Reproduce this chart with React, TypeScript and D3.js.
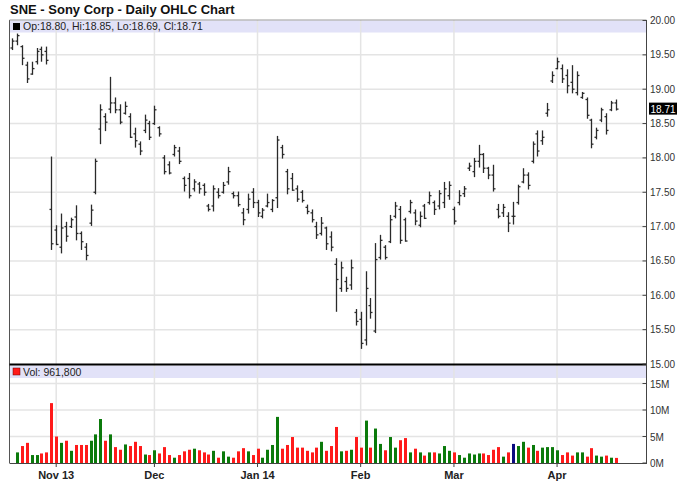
import * as d3 from "d3"

// Sony Corp (SNE) daily bars, Oct 21 2013 - Apr 17 2014
const opens = [
  19.6, 19.7, 19.62, 19.35, 19.22, 19.4, 19.58, 19.55, 17.25, 16.95,
  16.7, 17.0, 17.0, 17.14, 16.9, 16.7, 17.05, 17.5, 18.42, 18.6,
  18.71, 18.8, 18.7, 18.65, 18.6, 18.35, 18.2, 18.4, 18.5, 18.5,
  18.44, 18.0, 17.9, 18.05, 18.1, 17.7, 17.7, 17.55, 17.62, 17.6,
  17.3, 17.3, 17.5, 17.5, 17.65, 17.48, 17.45, 17.2, 17.25, 17.5,
  17.35, 17.15, 17.3, 17.25, 17.42, 18.15, 17.8, 17.7, 17.55, 17.5,
  17.28, 17.2, 17.0, 16.9, 16.98, 16.85, 16.45, 16.1, 16.2, 16.15,
  15.75, 15.65, 15.35, 15.85, 15.48, 16.55, 16.7, 16.78, 17.15, 17.25,
  17.1, 17.22, 17.2, 17.02, 17.3, 17.35, 17.35, 17.3, 17.35, 17.45,
  17.25, 17.35, 17.48, 17.85, 17.8, 17.95, 18.05, 17.85, 17.75, 17.25,
  17.2, 17.15, 17.15, 17.35, 17.65, 17.75, 17.95, 18.35, 18.25, 18.65,
  19.12, 19.3, 19.3, 19.2, 19.1, 18.95, 18.88, 18.85, 18.55, 18.3,
  18.55, 18.6, 18.7, 18.8,
]
const highs = [
  19.74, 19.81, 19.64, 19.4, 19.4, 19.6, 19.62, 19.62, 18.02, 17.02,
  17.19, 17.07, 17.13, 17.31, 16.93, 16.76, 17.32, 17.99, 18.78, 18.65,
  19.18, 18.88, 18.78, 18.82, 18.65, 18.44, 18.24, 18.63, 18.54, 18.76,
  18.46, 18.04, 17.95, 18.19, 18.16, 17.73, 17.78, 17.69, 17.65, 17.63,
  17.33, 17.6, 17.56, 17.65, 17.87, 17.51, 17.51, 17.27, 17.48, 17.56,
  17.39, 17.27, 17.48, 17.4, 18.32, 18.19, 17.84, 17.78, 17.6, 17.53,
  17.32, 17.25, 17.07, 17.14, 17.0, 16.93, 16.54, 16.49, 16.27, 16.52,
  15.8, 15.76, 16.35, 15.96, 16.76, 16.88, 16.73, 17.17, 17.36, 17.3,
  17.13, 17.39, 17.25, 17.22, 17.33, 17.51, 17.38, 17.53, 17.65, 17.66,
  17.29, 17.53, 17.59, 17.93, 18.0, 18.19, 18.07, 17.87, 17.9, 17.33,
  17.33, 17.21, 17.36, 17.61, 17.85, 17.79, 18.24, 18.4, 18.4, 18.8,
  19.26, 19.46, 19.36, 19.29, 19.35, 19.26, 18.96, 18.88, 18.57, 18.44,
  18.73, 18.65, 18.83, 18.85,
]
const lows = [
  19.57, 19.64, 19.35, 19.09, 19.21, 19.36, 19.4, 19.36, 16.66, 16.73,
  16.61, 16.78, 16.98, 16.8, 16.66, 16.51, 17.01, 17.47, 18.2, 18.39,
  18.65, 18.65, 18.49, 18.63, 18.29, 18.15, 18.04, 18.36, 18.26, 18.48,
  18.31, 17.76, 17.76, 18.02, 17.91, 17.51, 17.41, 17.51, 17.48, 17.45,
  17.22, 17.22, 17.41, 17.48, 17.61, 17.41, 17.29, 17.02, 17.19, 17.27,
  17.14, 17.12, 17.28, 17.21, 17.27, 17.99, 17.47, 17.52, 17.36, 17.35,
  17.18, 17.06, 16.82, 16.87, 16.66, 16.64, 15.76, 16.05, 16.05, 16.08,
  15.56, 15.22, 15.27, 15.66, 15.45, 16.52, 16.52, 16.76, 17.12, 16.75,
  16.78, 17.19, 17.02, 16.99, 17.11, 17.32, 17.17, 17.25, 17.27, 17.39,
  17.03, 17.31, 17.43, 17.81, 17.72, 17.86, 17.78, 17.69, 17.51, 17.12,
  17.14, 16.92, 17.03, 17.32, 17.63, 17.54, 17.92, 18.02, 18.19, 18.6,
  19.09, 19.29, 19.09, 18.94, 18.94, 18.91, 18.86, 18.57, 18.14, 18.27,
  18.52, 18.34, 18.68, 18.69,
]
const closes = [
  19.7, 19.78, 19.45, 19.15, 19.3, 19.55, 19.5, 19.42, 16.75, 16.74,
  16.98, 16.86, 17.1, 16.9, 16.78, 16.58, 17.24, 17.95, 18.7, 18.52,
  18.8, 18.7, 18.52, 18.75, 18.3, 18.25, 18.1, 18.55, 18.3, 18.7,
  18.35, 17.8, 17.78, 18.15, 17.95, 17.6, 17.45, 17.65, 17.55, 17.5,
  17.25, 17.55, 17.45, 17.6, 17.8, 17.45, 17.32, 17.1, 17.4, 17.35,
  17.2, 17.24, 17.35, 17.38, 18.26, 18.05, 17.55, 17.53, 17.4, 17.38,
  17.22, 17.1, 16.88, 17.05, 16.75, 16.7, 16.23, 16.4, 16.1, 16.4,
  15.62, 15.3, 16.1, 15.75, 16.52, 16.8, 16.55, 17.1, 17.3, 16.8,
  16.79, 17.35, 17.08, 17.15, 17.12, 17.45, 17.25, 17.48, 17.55, 17.6,
  17.08, 17.45, 17.55, 17.88, 17.95, 18.05, 17.85, 17.75, 17.55, 17.15,
  17.28, 17.05, 17.15, 17.58, 17.75, 17.6, 18.2, 18.1, 18.3, 18.7,
  19.2, 19.4, 19.15, 19.05, 19.0, 19.2, 18.94, 18.62, 18.2, 18.4,
  18.7, 18.4, 18.8, 18.71,
]
// volume in millions of shares
const volumes = [
  0, 2.0, 3.2, 3.8, 1.5, 1.5, 1.8, 2.0, 11.3, 5.0,
  3.8, 4.2, 2.3, 3.4, 3.4, 3.4, 4.2, 5.4, 8.3, 4.2,
  5.4, 3.0, 2.5, 3.5, 3.2, 4.0, 3.2, 1.6, 1.5, 2.4,
  1.8, 3.0, 1.5, 1.0, 1.5, 2.2, 2.5, 2.7, 2.4, 2.0,
  1.6, 2.3, 1.0, 2.2, 1.2, 1.0, 2.2, 2.8, 2.2, 1.5,
  2.7, 1.0, 2.5, 3.4, 8.7, 2.7, 3.4, 4.9, 2.9, 2.9,
  2.3, 2.0, 2.9, 4.0, 2.3, 3.2, 6.8, 2.2, 2.3, 2.5,
  4.9, 2.9, 8.0, 2.9, 6.5, 3.6, 2.4, 4.9, 2.9, 4.3,
  4.7, 2.0, 2.7, 2.0, 1.4, 2.0, 2.0, 1.8, 3.2, 2.3,
  2.0, 1.5, 1.0, 1.8, 1.6, 1.8, 1.8, 1.5, 2.5, 3.0,
  1.2, 2.0, 3.6, 3.2, 4.0, 2.9, 3.4, 2.3, 2.9, 3.0,
  3.0, 2.4, 1.5, 2.0, 1.4, 2.0, 2.0, 1.2, 2.8, 1.4,
  1.2, 1.4, 1.0, 0.9618,
]

const holidays = ["2013-11-28", "2013-12-25", "2014-01-01", "2014-01-20", "2014-02-17"]
const monthStarts = ["2013-11-01", "2013-12-02", "2014-01-02", "2014-02-03", "2014-03-03", "2014-04-01"]
const monthLabels = ["Nov 13", "Dec", "Jan 14", "Feb", "Mar", "Apr"]
const priceTicks = [15, 15.5, 16, 16.5, 17, 17.5, 18, 18.5, 19, 19.5, 20]
const volumeTicks = [0, 5, 10, 15]

const fmtDay = d3.timeFormat("%Y-%m-%d")
const dates = d3.timeDay
  .range(new Date(2013, 9, 21), new Date(2014, 3, 18))
  .filter((d) => d.getDay() !== 0 && d.getDay() !== 6)
  .map(fmtDay)
  .filter((s) => !holidays.includes(s))

const FONT = "Arial, 'Liberation Sans', sans-serif"

export default function App() {
  const width = 688
  const height = 503
  const left = 9.5
  const right = 646.5
  const priceTop = 20
  const priceBottom = 364
  const volBottom = 463

  const x = d3.scalePoint<string>().domain(dates).range([12, 616])
  const y = d3.scaleLinear().domain([15, 20]).range([priceBottom, 20.5])
  const yv = d3.scaleLinear().domain([0, 15]).range([volBottom, 383.5])

  const last = closes.length - 1
  const lastVol = d3.format(",")(Math.round(volumes[last] * 1e6))

  const volColor = (i: number) =>
    closes[i] > opens[i] ? "#0b7a0b" : closes[i] < opens[i] ? "#ff1a1a" : "#0a0a80"

  return (
    <svg width={width} height={height} style={{ position: "absolute", left: 0, top: 0, background: "#fff" }}>
      <style>{`body{margin:0}`}</style>
      <text x={10} y={13.5} fontFamily={FONT} fontWeight="bold" fontSize={13} fill="#111">
        SNE - Sony Corp - Daily OHLC Chart
      </text>

      {/* price panel legend band */}
      <rect x={left + 0.5} y={priceTop + 0.5} width={right - left - 1} height={12} fill="#e2e2f8" />
      {/* volume panel legend band */}
      <rect x={left + 0.5} y={365.5} width={right - left - 1} height={12.5} fill="#e2e2f8" />

      {/* horizontal grid */}
      {priceTicks.slice(1, -1).map((t) => (
        <line key={"pg" + t} x1={left} x2={right} y1={y(t)} y2={y(t)} stroke="#e4e4e4" strokeWidth={1.5} />
      ))}
      {volumeTicks.slice(1).map((t) => (
        <line key={"vg" + t} x1={left} x2={right} y1={yv(t)} y2={yv(t)} stroke="#e4e4e4" strokeWidth={1.5} />
      ))}
      {/* vertical grid */}
      {monthStarts.map((d) => (
        <line key={"xg" + d} x1={x(d)} x2={x(d)} y1={priceTop} y2={volBottom} stroke="#e4e4e4" strokeWidth={1.5} />
      ))}

      {/* legends */}
      <rect x={13} y={23} width={7} height={7} fill="#000" />
      <text x={23} y={30} fontFamily={FONT} fontSize={10.5} fill="#222">
        {`Op:${opens[last].toFixed(2)}, Hi:${highs[last].toFixed(2)}, Lo:${lows[last].toFixed(2)}, Cl:${closes[last].toFixed(2)}`}
      </text>
      <rect x={13} y={368} width={7} height={7} fill="#ff1a1a" stroke="#600" strokeWidth={0.5} />
      <text x={23} y={375.5} fontFamily={FONT} fontSize={10.5} fill="#222">
        {`Vol: ${lastVol}`}
      </text>

      {/* OHLC bars */}
      <g stroke="#2a2a2a" strokeWidth={1.3}>
        {dates.map((d, i) => {
          const cx = Math.round(x(d)!) + 0.5
          return (
            <g key={"b" + d}>
              <line x1={cx} x2={cx} y1={y(highs[i])} y2={y(lows[i])} />
              <line x1={cx - 2} x2={cx} y1={y(opens[i])} y2={y(opens[i])} />
              <line x1={cx} x2={cx + 2} y1={y(closes[i])} y2={y(closes[i])} />
            </g>
          )
        })}
      </g>

      {/* volume bars */}
      {dates.map((d, i) => (
        <rect
          key={"v" + d}
          x={Math.round(x(d)!) - 1}
          y={yv(volumes[i])}
          width={3}
          height={volBottom - yv(volumes[i])}
          fill={volColor(i)}
        />
      ))}

      {/* frame */}
      <line x1={left} x2={left} y1={priceTop} y2={volBottom} stroke="#555" />
      <line x1={left} x2={right} y1={priceTop} y2={priceTop} stroke="#999" />
      <line x1={left} x2={right} y1={priceBottom + 0.5} y2={priceBottom + 0.5} stroke="#000" strokeWidth={2} />
      <line x1={left} x2={right} y1={volBottom + 0.5} y2={volBottom + 0.5} stroke="#444" />
      <line x1={right} x2={right} y1={priceTop} y2={volBottom + 1} stroke="#444" />

      {/* right price axis */}
      {priceTicks.map((t) => (
        <g key={"pt" + t}>
          <line x1={right - 4} x2={right} y1={y(t)} y2={y(t)} stroke="#444" />
          <text x={650} y={y(t) + 3.5} fontFamily={FONT} fontSize={10} fill="#333">
            {t.toFixed(2)}
          </text>
        </g>
      ))}
      <rect x={649} y={y(closes[last]) - 6.5} width={28} height={12} fill="#000" />
      <text x={650.5} y={y(closes[last]) + 3.5} fontFamily={FONT} fontSize={10} fill="#fff">
        {closes[last].toFixed(2)}
      </text>

      {/* right volume axis */}
      {volumeTicks.map((t) => (
        <g key={"vt" + t}>
          <line x1={right - 4} x2={right} y1={yv(t)} y2={yv(t)} stroke="#444" />
          <text x={650} y={yv(t) + 4} fontFamily={FONT} fontSize={10} fill="#333">
            {`${t}M`}
          </text>
        </g>
      ))}

      {/* bottom date axis */}
      {monthStarts.map((d, i) => (
        <g key={"xt" + d}>
          <line x1={x(d)} x2={x(d)} y1={volBottom} y2={volBottom + 4} stroke="#444" />
          <text x={x(d)} y={479} textAnchor="middle" fontFamily={FONT} fontWeight="bold" fontSize={11} fill="#222">
            {monthLabels[i]}
          </text>
        </g>
      ))}
    </svg>
  )
}
